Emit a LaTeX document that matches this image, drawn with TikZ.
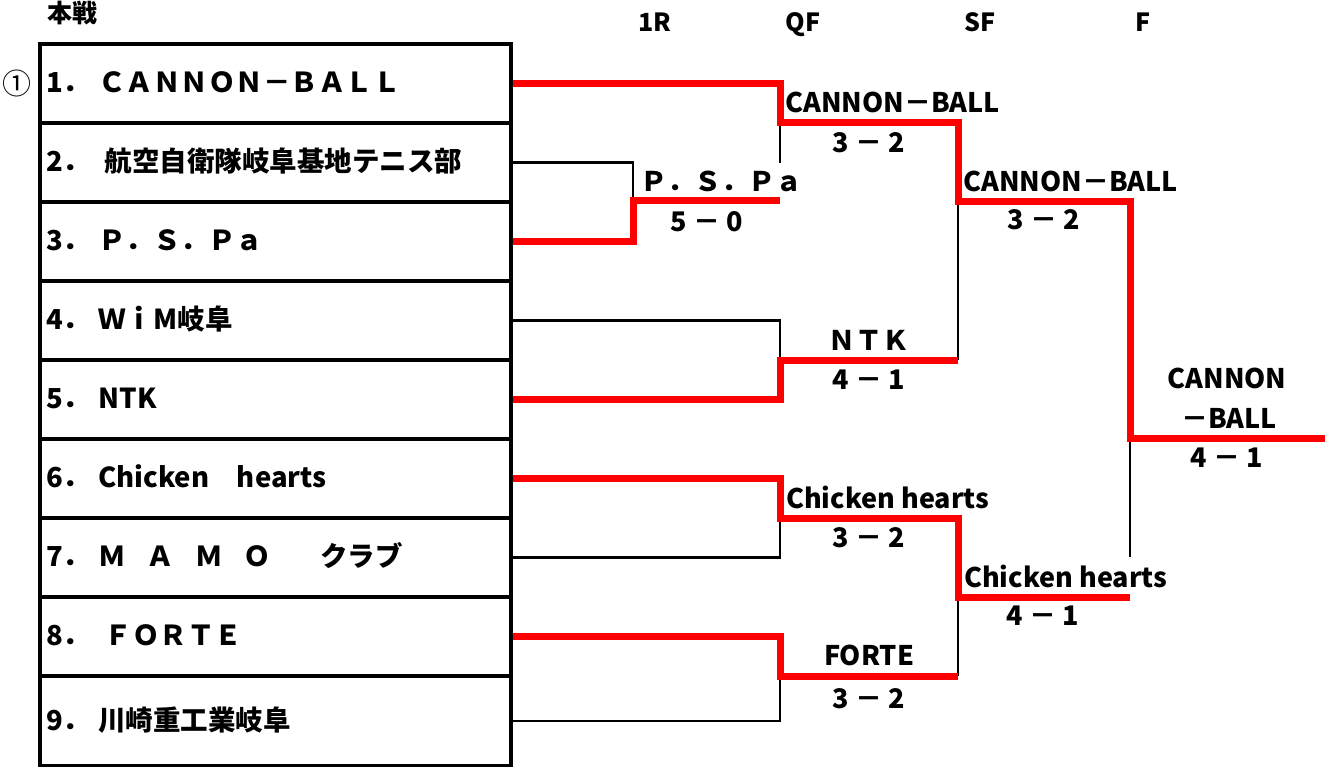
\documentclass[tikz,border=0pt]{standalone}
\usepackage{fontspec}
\setmainfont{Noto Sans CJK JP}
\newcommand{\dotsep}{．\hspace{8pt}}
\begin{document}
\begin{tikzpicture}[x=1pt,y=-1pt,
  rowbox/.style={draw,line width=3.3pt,minimum width=471pt,minimum height=79pt,inner sep=0pt},
  rowtxt/.style={anchor=base west,inner sep=0pt,font=\fontsize{27.5}{32}\selectfont\bfseries},
  lbl/.style={inner sep=0pt,anchor=base,font=\fontsize{27}{31}\selectfont\bfseries},
  lblw/.style={lbl,anchor=base west},
  hdr/.style={inner sep=0pt,anchor=base,font=\fontsize{25}{29}\selectfont\bfseries},
  win/.style={draw=red,line width=7pt},
  lose/.style={draw=black,line width=2.6pt}]
\useasboundingbox (0,0) rectangle (1332,767);

% title, marks, headers
\node[hdr,anchor=base west,font=\fontsize{25}{29}\selectfont\bfseries] (title) at (47,23) {本戦};
\node[inner sep=0pt,font=\fontsize{29}{32}\selectfont] (seed) at (17,83) {①};
\node[hdr] (h1) at (655,32) {1R};
\node[hdr] (h2) at (803,32) {QF};
\node[hdr] (h3) at (980,32) {SF};
\node[hdr] (h4) at (1143,32) {F};

% table rows
\node[rowbox] (r1) at (275.5,83.5) {};
\node[rowbox] (r2) at (275.5,162.5) {};
\node[rowbox] (r3) at (275.5,241.5) {};
\node[rowbox] (r4) at (275.5,320.5) {};
\node[rowbox] (r5) at (275.5,399.5) {};
\node[rowbox] (r6) at (275.5,478.5) {};
\node[rowbox] (r7) at (275.5,557.5) {};
\node[rowbox] (r8) at (275.5,636.5) {};
\node[rowbox,minimum height=90pt] (r9) at (275.5,721) {};

\node[rowtxt] (t1) at (46,92.5) {1\dotsep ＣＡＮＮＯＮ－ＢＡＬＬ};
\node[rowtxt] (t2) at (46,171.5) {2\dotsep\ 航空自衛隊岐阜基地テニス部};
\node[rowtxt] (t3) at (46,250.5) {3\dotsep Ｐ．Ｓ．Ｐａ};
\node[rowtxt] (t4) at (46,329.5) {4\dotsep ＷｉM岐阜};
\node[rowtxt] (t5) at (46,408.5) {5\dotsep NTK};
\node[rowtxt] (t6) at (46,487.5) {6\dotsep Chicken　hearts};
\node[rowtxt] (t7) at (46,566.5) {7\dotsep Ｍ\hspace{21pt}Ａ\hspace{21pt}Ｍ\hspace{21pt}Ｏ\hspace{49pt}クラブ};
\node[rowtxt] (t8) at (46,645.5) {8\dotsep\ ＦＯＲＴＥ};
\node[rowtxt] (t9) at (46,730) {9\dotsep 川崎重工業岐阜};

% junction coordinates
\coordinate (m1) at (633,201);
\coordinate (q1) at (780,123);
\coordinate (q1b) at (780,163);
\coordinate (q2) at (780,360);
\coordinate (q3) at (780,518);
\coordinate (q4) at (780,676);
\coordinate (s1) at (958,202);
\coordinate (s2) at (958,597);
\coordinate (fj) at (1130,438);
\coordinate (fb) at (1130,557);
\coordinate (fend) at (1325,438);

% losing lines
\draw[lose] (r2.east) -| (m1);
\draw[lose] (q1) -- (q1b);
\draw[lose] (r4.east) -| (q2);
\draw[lose] (s1) -- (s1 |- q2);
\draw[lose] (r7.east) -| (q3);
\draw[lose] (r9.east) -| (q4);
\draw[lose] (s2) -- (s2 |- q4);
\draw[lose] (fj) -- (fb);

% winning lines
\draw[win] (r1.east) -| (q1) -| (s1) -| (fj) -- (fend);
\draw[win] (r3.east) -| (m1) -- (m1 -| q1);
\draw[win] (r5.east) -| (q2) -- (s1 |- q2);
\draw[win] (r6.east) -| (q3) -| (s2) -- (fj |- s2);
\draw[win] (r8.east) -| (q4) -- (s2 |- q4);

% labels
\node[lblw] (w1) at (785,113) {CANNON－BALL};
\node[lbl] (sc1) at (869,153) {3 － 2};
\node[lblw] (w0) at (640,192) {Ｐ．Ｓ．Ｐａ};
\node[lbl] (sc0) at (707,232) {5 － 0};
\node[lblw] (w5) at (963,192) {CANNON－BALL};
\node[lbl] (sc5) at (1044,230) {3 － 2};
\node[lbl] (w2) at (869,350) {ＮＴＫ};
\node[lbl] (sc2) at (869,389) {4 － 1};
\node[lbl] (w7) at (1227,388) {CANNON};
\node[lbl] (w7b) at (1229,428) {－BALL};
\node[lbl] (sc7) at (1227,467) {4 － 1};
\node[lblw] (w3) at (786,508) {Chicken hearts};
\node[lbl] (sc3) at (869,547) {3 － 2};
\node[lblw] (w6) at (964,587) {Chicken hearts};
\node[lbl] (sc6) at (1043,625) {4 － 1};
\node[lbl] (w4) at (869,665) {FORTE};
\node[lbl] (sc4) at (869,708) {3 － 2};
\end{tikzpicture}
\end{document}
